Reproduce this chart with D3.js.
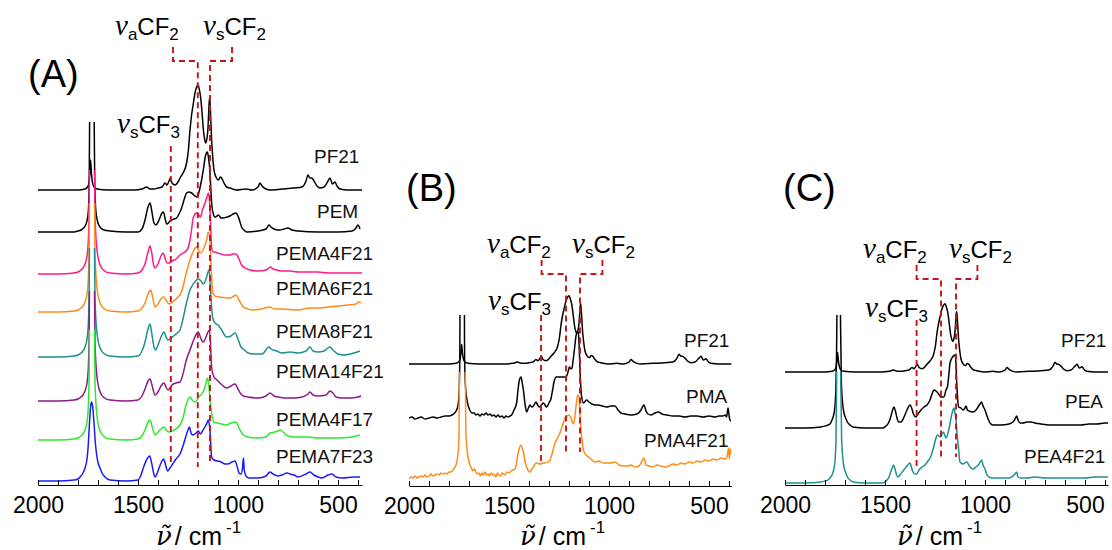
<!DOCTYPE html>
<html>
<head>
<meta charset="utf-8">
<script src="https://cdn.jsdelivr.net/npm/d3@7"></script>
<style>
  body { margin: 0; background: #fff; }
  svg { display: block; }
</style>
</head>
<body>
<svg id="chart" width="1112" height="550"></svg>
<script>
// spectra: [wavenumber, intensity above own baseline]
const pf21 = [[2000,0],[1900,0],[1800,0],[1765,1],[1752,3],[1745,7],[1741,16],[1737,30],[1733,17],[1728,8],[1720,3],[1705,1],[1650,0],[1520,0],[1480,1],[1457,3],[1440,1],[1420,1],[1400,2],[1380,3],[1365,7],[1355,5],[1345,9],[1338,12],[1330,7],[1315,5],[1300,8],[1290,12],[1275,17],[1257,27],[1248,40],[1240,60],[1232,75],[1223,87],[1215,97],[1207,103],[1200,105],[1193,100],[1187,93],[1180,78],[1173,60],[1166,50],[1160,47],[1155,52],[1150,62],[1146,80],[1142,93],[1138,80],[1132,50],[1126,32],[1120,20],[1110,13],[1098,10],[1088,13],[1082,12],[1070,7],[1057,3],[1040,2],[1007,0],[960,1],[930,0],[900,3],[890,7],[880,4],[860,1],[840,0],[780,1],[720,2],[680,3],[660,9],[650,15],[640,12],[632,12],[620,9],[605,4],[590,2],[570,3],[550,9],[540,12],[528,6],[515,8],[505,4],[490,1],[450,0],[380,0]];

const pem = [[2000,0],[1900,0],[1820,0],[1800,1],[1785,2],[1772,4],[1762,7],[1754,12],[1748,22],[1744,50],[1742,110],[1740,160],[1722,160],[1719,110],[1716,45],[1711,22],[1704,12],[1696,7],[1686,4],[1670,2],[1640,1],[1560,0],[1500,0],[1480,3],[1465,12],[1450,25],[1440,29],[1432,22],[1420,9],[1410,7],[1395,12],[1380,19],[1373,20],[1365,14],[1357,8],[1348,9],[1340,11],[1320,13],[1307,14],[1295,18],[1282,24],[1270,32],[1257,39],[1245,40],[1232,39],[1215,36],[1203,35],[1195,40],[1182,52],[1172,64],[1165,74],[1158,79],[1153,80],[1148,75],[1140,59],[1135,40],[1130,25],[1122,17],[1115,15],[1105,16],[1098,17],[1085,14],[1073,14],[1055,15],[1040,16],[1025,18],[1010,19],[1000,16],[990,10],[982,5],[970,2],[957,0],[900,1],[860,3],[845,7],[835,5],[820,3],[800,2],[790,2],[770,3],[750,4],[730,2],[700,1],[600,0],[500,0],[430,1],[410,4],[400,7],[390,3]];

const pema4f21 = [[2000,0],[1900,0],[1820,1],[1800,2],[1785,4],[1775,6],[1765,10],[1755,18],[1748,35],[1744,70],[1742,140],[1740,160],[1722,160],[1719,140],[1715,60],[1709,33],[1701,18],[1693,11],[1682,6],[1667,3],[1640,1],[1560,0],[1500,1],[1480,4],[1465,10],[1450,22],[1440,28],[1432,22],[1422,9],[1415,6],[1400,10],[1385,18],[1375,21],[1365,16],[1355,11],[1345,11],[1330,13],[1310,15],[1290,19],[1275,21],[1260,23],[1248,27],[1240,34],[1232,45],[1223,57],[1207,61],[1195,59],[1188,57],[1178,64],[1165,71],[1155,77],[1148,81],[1142,72],[1136,45],[1132,27],[1125,22],[1115,22],[1103,21],[1085,20],[1070,19],[1057,19],[1040,19],[1025,20],[1010,20],[995,15],[982,9],[965,6],[940,4],[900,3],[860,4],[845,6],[838,7],[825,5],[807,4],[780,3],[740,3],[700,2],[650,2],[600,2],[550,1],[500,1],[450,1],[380,1]];

const pema6f21 = [[2000,0],[1900,0],[1820,1],[1800,2],[1785,4],[1775,6],[1765,10],[1755,18],[1748,35],[1744,70],[1742,140],[1740,160],[1722,160],[1719,140],[1715,60],[1709,33],[1701,18],[1693,11],[1682,6],[1667,3],[1640,1],[1560,0],[1500,1],[1480,4],[1465,9],[1450,18],[1437,22],[1428,16],[1415,5],[1400,8],[1385,13],[1370,15],[1360,12],[1343,8],[1320,11],[1300,15],[1290,17],[1275,25],[1260,38],[1248,47],[1240,52],[1225,60],[1207,65],[1198,62],[1190,59],[1175,62],[1165,67],[1157,72],[1148,80],[1140,70],[1133,40],[1127,20],[1115,16],[1090,15],[1060,14],[1040,14],[1020,16],[1010,17],[995,12],[973,5],[950,3],[935,2],[880,3],[840,5],[820,3],[780,3],[700,2],[640,4],[600,4],[550,5],[500,6],[450,7],[410,8],[395,10],[385,9]];

const pema8f21 = [[2000,0],[1900,0],[1820,1],[1800,2],[1785,4],[1775,6],[1765,10],[1755,18],[1748,35],[1744,70],[1742,140],[1740,160],[1722,160],[1719,140],[1715,60],[1709,33],[1701,18],[1693,11],[1682,6],[1667,3],[1640,1],[1560,0],[1500,1],[1480,6],[1465,15],[1450,28],[1440,33],[1430,22],[1420,10],[1412,7],[1400,12],[1385,20],[1370,25],[1360,20],[1350,17],[1340,18],[1328,20],[1310,23],[1290,27],[1275,38],[1260,52],[1240,67],[1220,74],[1198,78],[1185,76],[1173,73],[1160,78],[1145,87],[1138,70],[1132,50],[1127,40],[1115,34],[1100,32],[1085,28],[1057,20],[1035,21],[1015,24],[1000,18],[985,10],[973,8],[950,4],[920,3],[880,3],[845,10],[835,8],[807,6],[780,4],[740,5],[700,4],[660,6],[640,10],[625,6],[600,5],[570,6],[540,10],[525,7],[500,3],[470,2],[420,4],[390,6]];

const pema14f21 = [[2000,0],[1900,0],[1820,1],[1800,2],[1785,4],[1775,6],[1765,10],[1755,18],[1748,35],[1744,70],[1742,140],[1740,160],[1722,160],[1719,140],[1715,60],[1709,33],[1701,18],[1693,11],[1682,6],[1667,3],[1640,1],[1560,0],[1500,1],[1480,5],[1465,12],[1450,20],[1440,22],[1430,16],[1415,6],[1400,9],[1385,15],[1370,18],[1360,14],[1350,11],[1340,13],[1330,16],[1310,18],[1290,19],[1275,27],[1260,40],[1240,51],[1220,62],[1205,68],[1198,69],[1190,65],[1180,60],[1173,59],[1160,64],[1150,69],[1143,71],[1138,60],[1132,34],[1120,24],[1105,21],[1080,16],[1057,13],[1035,15],[1015,17],[1000,12],[985,7],[973,5],[950,4],[900,3],[860,5],[840,8],[820,5],[800,4],[760,3],[720,3],[680,4],[650,7],[640,9],[625,6],[600,5],[560,6],[540,10],[525,8],[510,4],[480,3],[440,3],[400,4],[385,5]];

const pema4f17 = [[2000,0],[1900,0],[1820,1],[1800,2],[1785,4],[1775,6],[1765,10],[1755,18],[1748,35],[1744,70],[1742,140],[1740,160],[1722,160],[1719,140],[1715,60],[1709,33],[1701,18],[1693,11],[1682,6],[1667,3],[1640,1],[1560,0],[1500,1],[1480,4],[1465,10],[1450,18],[1440,20],[1430,14],[1415,5],[1400,8],[1385,11],[1370,13],[1360,10],[1345,8],[1320,10],[1290,15],[1275,22],[1260,35],[1250,40],[1240,43],[1225,39],[1210,38],[1198,43],[1185,45],[1170,50],[1160,57],[1153,62],[1146,55],[1140,40],[1132,27],[1120,18],[1103,17],[1080,16],[1057,15],[1035,17],[1010,18],[995,12],[973,5],[950,3],[900,2],[860,3],[840,7],[815,8],[800,9],[790,10],[775,8],[750,4],[720,3],[650,3],[600,2],[500,2],[430,3],[390,5]];

const pema7f23 = [[2000,0],[1900,0],[1820,1],[1800,2],[1785,5],[1775,8],[1765,13],[1755,22],[1748,38],[1742,60],[1736,76],[1732,79],[1727,75],[1720,58],[1714,40],[1706,25],[1698,17],[1690,13],[1680,8],[1665,4],[1640,1],[1560,0],[1500,1],[1485,6],[1470,15],[1455,22],[1442,25],[1432,18],[1422,8],[1415,4],[1400,10],[1385,18],[1372,22],[1362,16],[1352,10],[1340,13],[1327,17],[1310,22],[1290,27],[1275,35],[1260,45],[1248,52],[1243,54],[1233,47],[1225,46],[1210,48],[1198,50],[1188,47],[1178,50],[1165,54],[1155,58],[1148,61],[1140,50],[1132,24],[1120,21],[1103,20],[1085,19],[1065,17],[1050,17],[1030,19],[1015,20],[1005,15],[995,8],[985,7],[978,12],[973,23],[968,10],[960,5],[945,3],[900,3],[860,5],[840,9],[825,7],[800,5],[780,6],[755,8],[740,7],[720,6],[700,4],[660,7],[640,9],[620,6],[600,4],[580,3],[550,6],[530,7],[510,4],[480,3],[420,4],[390,4]];

const pma = [[2000,0],[1985,1],[1970,-1],[1955,0],[1940,1],[1920,-1],[1900,0],[1880,1],[1860,0],[1840,1],[1820,2],[1800,2],[1785,3],[1772,5],[1762,8],[1754,14],[1749,28],[1746,60],[1744,150],[1724,150],[1722,60],[1717,30],[1710,18],[1702,11],[1694,7],[1685,5],[1675,5],[1665,3],[1655,4],[1645,2],[1635,4],[1625,3],[1615,5],[1605,3],[1595,4],[1585,2],[1575,3],[1565,1],[1555,3],[1545,1],[1535,2],[1525,0],[1515,2],[1505,1],[1495,2],[1487,3],[1475,8],[1462,15],[1455,28],[1448,38],[1440,41],[1433,34],[1428,28],[1420,14],[1412,6],[1403,10],[1395,13],[1387,11],[1378,12],[1365,16],[1357,13],[1348,11],[1338,13],[1328,15],[1320,13],[1312,11],[1305,13],[1298,16],[1292,18],[1282,28],[1275,36],[1263,41],[1240,41],[1215,41],[1205,46],[1198,51],[1190,49],[1185,50],[1178,60],[1172,70],[1165,82],[1158,86],[1153,86],[1149,70],[1145,48],[1140,28],[1136,20],[1128,15],[1112,18],[1100,16],[1085,14],[1070,13],[1053,13],[1035,12],[1010,11],[990,12],[970,12],[955,8],[940,5],[920,4],[890,3],[860,4],[840,8],[830,12],[825,13],[815,7],[805,4],[790,3],[770,5],[753,6],[735,4],[710,3],[680,2],[650,2],[620,1],[590,2],[560,2],[530,1],[500,2],[470,1],[450,2],[430,2],[420,3],[412,1],[405,10],[400,3],[395,-2],[390,-3]];

const pma4f21 = [[2000,0],[1990,2],[1980,1],[1970,3],[1960,1],[1950,2],[1940,3],[1930,2],[1920,4],[1910,2],[1900,3],[1890,5],[1880,3],[1870,4],[1860,5],[1850,4],[1840,6],[1830,5],[1820,6],[1810,5],[1800,7],[1790,7],[1780,9],[1770,12],[1762,16],[1755,25],[1750,45],[1747,150],[1720,150],[1716,50],[1710,30],[1703,20],[1695,14],[1688,11],[1680,8],[1672,10],[1665,7],[1658,5],[1650,6],[1642,3],[1635,6],[1628,4],[1620,7],[1612,4],[1605,5],[1598,3],[1590,6],[1582,4],[1575,5],[1566,2],[1558,6],[1550,4],[1542,3],[1535,6],[1527,5],[1520,4],[1510,7],[1500,6],[1490,8],[1480,9],[1470,10],[1462,16],[1455,25],[1448,31],[1440,34],[1433,30],[1428,27],[1420,18],[1412,12],[1403,8],[1395,7],[1386,10],[1378,12],[1370,15],[1362,16],[1345,15],[1330,16],[1320,16],[1305,17],[1295,19],[1285,25],[1270,36],[1258,41],[1245,46],[1232,54],[1220,61],[1210,63],[1203,64],[1192,62],[1185,58],[1178,55],[1172,60],[1167,69],[1162,78],[1157,84],[1150,82],[1144,60],[1140,49],[1134,38],[1128,29],[1115,24],[1103,22],[1085,19],[1070,17],[1050,18],[1030,16],[1010,16],[990,16],[970,17],[950,14],[930,13],[910,13],[890,14],[870,12],[850,13],[835,18],[825,21],[815,14],[800,13],[780,12],[760,14],[740,13],[720,12],[700,13],[680,15],[660,14],[640,16],[620,15],[600,17],[580,16],[560,18],[540,17],[520,19],[500,18],[480,20],[460,19],[440,21],[420,20],[410,22],[402,31],[398,20],[394,30],[390,25]];

const pea = [[2000,0],[1900,0],[1820,1],[1800,2],[1785,3],[1775,4],[1765,8],[1758,12],[1750,22],[1745,45],[1741,100],[1739,160],[1725,160],[1722,100],[1718,45],[1712,25],[1705,15],[1697,10],[1688,6],[1675,3],[1660,1],[1600,0],[1510,0],[1495,2],[1480,6],[1470,12],[1462,18],[1455,21],[1448,17],[1440,10],[1432,6],[1420,6],[1405,11],[1390,18],[1375,23],[1365,19],[1358,14],[1345,11],[1335,14],[1320,18],[1305,21],[1290,23],[1275,28],[1265,34],[1255,38],[1245,37],[1232,34],[1220,31],[1205,31],[1195,38],[1188,41],[1180,55],[1175,65],[1162,71],[1150,73],[1145,65],[1142,48],[1137,30],[1132,21],[1120,20],[1110,18],[1100,20],[1095,22],[1088,18],[1080,17],[1060,16],[1045,18],[1035,21],[1025,24],[1017,26],[1010,22],[1000,18],[990,12],[980,7],[975,5],[960,3],[920,3],[880,4],[860,6],[850,9],[842,12],[835,8],[825,5],[810,5],[790,6],[770,6],[750,5],[720,4],[680,3],[640,3],[600,3],[560,3],[520,3],[480,4],[440,4],[400,5],[385,5]];

const pea4f21 = [[2000,0],[1900,0],[1820,1],[1800,2],[1785,3],[1775,5],[1765,8],[1758,12],[1750,22],[1745,45],[1742,100],[1740,160],[1724,160],[1721,100],[1717,45],[1711,25],[1704,15],[1696,10],[1688,6],[1675,3],[1660,1],[1600,0],[1510,0],[1495,2],[1480,6],[1470,12],[1462,16],[1457,18],[1450,14],[1442,8],[1435,6],[1425,8],[1410,12],[1390,17],[1375,20],[1368,16],[1360,11],[1350,9],[1342,9],[1330,13],[1315,16],[1300,18],[1285,22],[1272,26],[1258,35],[1245,45],[1238,48],[1222,46],[1208,51],[1195,45],[1185,50],[1178,56],[1167,68],[1160,73],[1155,75],[1150,70],[1145,63],[1138,45],[1133,36],[1125,21],[1110,19],[1092,21],[1075,16],[1060,14],[1045,16],[1030,19],[1017,23],[1010,18],[1000,14],[990,8],[980,6],[960,5],[920,5],[880,5],[860,7],[850,9],[842,11],[835,6],[820,5],[790,5],[750,6],[700,5],[650,5],[600,5],[550,5],[500,5],[450,6],[400,6],[385,6]];

// stacking and per-trace settings
const namesA = ["PF21", "PEM", "PEMA4F21", "PEMA6F21", "PEMA8F21", "PEMA14F21", "PEMA4F17", "PEMA7F23"];
const offsetsA = [295, 253, 211, 173, 128, 84, 45, 4];
const clipsA = [null, 110, 104, 109, 109, 110, 110, null];
const scalesA = [1, 1, 1, 1, 1, 1, 1, 1];
const colorsA = ["#000000", "#000000", "#ff1a8c", "#ff8c1a", "#1f8f8f", "#8b1a8b", "#2ee82e", "#1a1aff"];

const namesB = ["PF21", "PMA", "PMA4F21"];
const offsetsB = [122, 68, 7];
const clipsB = [null, 103, 107];
const scalesB = [0.65, 1, 1];
const colorsB = ["#000000", "#000000", "#ff8c1a"];

const namesC = ["PF21", "PEA", "PEA4F21"];
const offsetsC = [113, 57, 2];
const clipsC = [null, 113, 111];
const scalesC = [0.65, 1, 1];
const colorsC = ["#000000", "#000000", "#1f8f8f"];

const minorTicks = [2000, 1900, 1800, 1700, 1600, 1500, 1400, 1300, 1200, 1100, 1000, 900, 800, 700, 600, 500, 400];
const majorTicks = [2000, 1500, 1000, 500];

const sans = "'Liberation Sans', Arial, sans-serif";
const serif = "'Liberation Serif', 'Times New Roman', serif";
const red = "#c81414";

const panels = [
    {
        id: "A", title: "(A)", titlePos: [28, 87],
        domain: [2000, 380], range: [38, 362], base: 485,
        spectra: [pf21, pem, pema4f21, pema6f21, pema8f21, pema14f21, pema4f17, pema7f23],
        names: namesA, offsets: offsetsA, clips: clipsA, scales: scalesA, colors: colorsA,
        namePos: [[314, 163], [317, 218], [276, 260], [276, 295], [276, 338], [276, 378], [276, 426], [276, 463]],
        cf3: [1336, 22, 339],
        brackets: [[1325, 438, 424, 1201, 18], [1030, 438, 424, 1140, 20]],
        bands: [[115, 35, "a", "2"], [203, 35, "s", "2"], [117, 133, "s", "3"]],
        xlabel: 156
    },
    {
        id: "B", title: "(B)", titlePos: [406, 201],
        domain: [2000, 388], range: [409, 731.4], base: 486,
        spectra: [pf21, pma, pma4f21],
        names: namesB, offsets: offsetsB, clips: clipsB, scales: scalesB, colors: colorsB,
        namePos: [[684, 347], [686, 403], [644, 447]],
        cf3: [1340, 23, 171],
        brackets: [[1337, 226, 212, 1215, 32], [1033, 226, 212, 1145, 34]],
        bands: [[487, 253, "a", "2"], [572, 253, "s", "2"], [488, 310, "s", "3"]],
        xlabel: 520
    },
    {
        id: "C", title: "(C)", titlePos: [783, 201],
        domain: [2000, 385], range: [785, 1108], base: 485,
        spectra: [pf21, pea, pea4f21],
        names: namesC, offsets: offsetsC, clips: clipsC, scales: scalesC, colors: colorsC,
        namePos: [[1061, 347], [1065, 408], [1024, 463]],
        cf3: [1342, 19, 165],
        brackets: [[1342, 220, 206, 1220, 27], [1038, 220, 206, 1145, 28]],
        bands: [[863, 258, "a", "2"], [949, 258, "s", "2"], [865, 317, "s", "3"]],
        xlabel: 897
    }
];

const svg = d3.select("#chart");
const H = 550;
const defs = svg.append("defs");

panels.forEach(p => {
    const x = d3.scaleLinear().domain(p.domain).range(p.range);
    const y = d3.scaleLinear().domain([0, 500]).range([p.base, p.base - 500]);

    // spectra
    p.spectra.forEach((s, i) => {
        const clipId = `clip-${p.id}-${i}`;
        const top = p.clips[i] == null ? 0 : y(p.offsets[i] + p.clips[i]);
        defs.append("clipPath")
            .attr("id", clipId)
            .append("rect")
            .attr("x", p.range[0])
            .attr("y", top)
            .attr("width", p.range[1] - p.range[0])
            .attr("height", H - top);

        const line = d3.line()
            .x(d => x(d[0]))
            .y(d => y(p.offsets[i] + p.scales[i] * d[1]))
            .curve(d3.curveMonotoneX);

        svg.append("path")
            .datum(s)
            .attr("d", line)
            .attr("clip-path", `url(#${clipId})`)
            .attr("fill", "none")
            .attr("stroke", p.colors[i])
            .attr("stroke-width", 1.5)
            .attr("stroke-linejoin", "round");
    });

    // dashed band markers
    const dash = svg.append("g")
        .attr("fill", "none")
        .attr("stroke", red)
        .attr("stroke-width", 1.9)
        .attr("stroke-dasharray", "6,4");

    dash.append("path")
        .attr("d", `M${x(p.cf3[0])},${y(p.cf3[2])}V${y(p.cf3[1])}`);

    p.brackets.forEach(([wEnd, vTop, vLevel, wLine, vBottom]) => {
        dash.append("path")
            .attr("d", `M${x(wEnd)},${y(vTop)}V${y(vLevel)}H${x(wLine)}V${y(vBottom)}`);
    });

    // axis
    const axis = d3.axisBottom(x)
        .tickValues(minorTicks.filter(t => t >= p.domain[1]))
        .tickSizeInner(-5)
        .tickSizeOuter(0)
        .tickPadding(12)
        .tickFormat(d => (majorTicks.includes(d) ? d : ""));

    const gAxis = svg.append("g")
        .attr("transform", `translate(0,${p.base})`)
        .call(axis)
        .attr("font-size", 23)
        .attr("font-family", sans);
    gAxis.select(".domain").attr("stroke-width", 1.2);
    gAxis.selectAll(".tick line").attr("stroke-width", 1);
    gAxis.selectAll(".tick text").attr("fill", "#000");

    // axis title: wavenumber (nu with tilde) / cm-1
    const xt = svg.append("text")
        .attr("x", p.xlabel)
        .attr("y", 545)
        .attr("font-family", sans)
        .attr("font-size", 25);
    xt.append("tspan")
        .attr("font-family", "'DejaVu Serif', serif")
        .attr("font-style", "italic")
        .attr("font-size", 26)
        .text("ν\u0303");
    xt.append("tspan").attr("dx", 3).text("/ cm");
    xt.append("tspan").attr("dx", 4).attr("dy", -12).attr("font-size", 17).text("-1");

    // band labels
    p.bands.forEach(([bx, by, sub, n]) => {
        const t = svg.append("text")
            .attr("x", bx)
            .attr("y", by)
            .attr("font-family", sans)
            .attr("font-size", 24);
        t.append("tspan")
            .attr("font-family", serif)
            .attr("font-style", "italic")
            .attr("font-size", 29)
            .text("ν");
        t.append("tspan").attr("dy", 5).attr("font-size", 17).text(sub);
        t.append("tspan").attr("dy", -5).text("CF");
        t.append("tspan").attr("dy", 5).attr("font-size", 17).text(n);
    });

    // trace names
    p.names.forEach((name, i) => {
        svg.append("text")
            .attr("x", p.namePos[i][0])
            .attr("y", p.namePos[i][1])
            .attr("font-family", sans)
            .attr("font-size", 19)
            .attr("fill", "#111")
            .text(name);
    });

    // panel letter
    svg.append("text")
        .attr("x", p.titlePos[0])
        .attr("y", p.titlePos[1])
        .attr("font-family", sans)
        .attr("font-size", 38)
        .text(p.title);
});
</script>
</body>
</html>
